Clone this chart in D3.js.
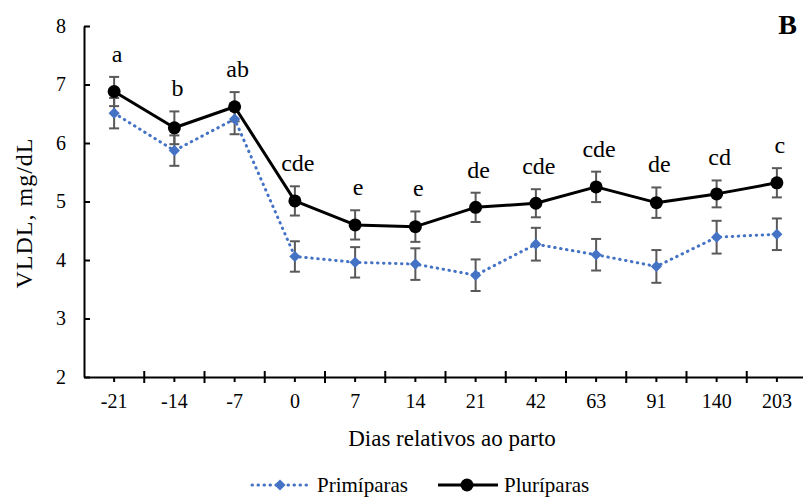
<!DOCTYPE html>
<html>
<head>
<meta charset="utf-8">
<script src="https://cdn.jsdelivr.net/npm/d3@7"></script>
<style>
  html, body { margin: 0; padding: 0; background: #fff; }
  svg { display: block; }
  svg text { font-family: "Liberation Serif", "Times New Roman", serif; }
</style>
</head>
<body>
<svg id="chart" width="803" height="497"></svg>
<script>
// Days relative to calving (categorical x axis)
const days = ["-21", "-14", "-7", "0", "7", "14", "21", "42", "63", "91", "140", "203"];

// VLDL means (mg/dL) and standard errors
const primiMean = [6.51, 5.87, 6.41, 4.06, 3.96, 3.93, 3.74, 4.27, 4.09, 3.89, 4.39, 4.44];
const primiSE   = [0.26, 0.26, 0.26, 0.26, 0.26, 0.27, 0.27, 0.28, 0.27, 0.28, 0.28, 0.27];
const pluriMean = [6.88, 6.26, 6.62, 5.01, 4.60, 4.57, 4.90, 4.97, 5.25, 4.98, 5.13, 5.32];
const pluriSE   = [0.25, 0.28, 0.25, 0.25, 0.25, 0.26, 0.25, 0.24, 0.26, 0.26, 0.23, 0.25];

// Significance letters per day
const letters = ["a", "b", "ab", "cde", "e", "e", "de", "cde", "cde", "de", "cd", "c"];

const yTicks = [2, 3, 4, 5, 6, 7, 8];

const FONT = "Liberation Serif, Times New Roman, serif";
const svg = d3.select("#chart");

const x = d3.scaleBand().domain(days).range([84, 807]).paddingInner(0).paddingOuter(0);
const cx = d => x(d) + x.bandwidth() / 2;
const y = d3.scaleLinear().domain([2, 8]).range([377, 26]);

const primi = days.map((d, i) => ({ day: d, v: primiMean[i], se: primiSE[i] }));
const pluri = days.map((d, i) => ({ day: d, v: pluriMean[i], se: pluriSE[i], lab: letters[i] }));

// Y axis: inward ticks, labels on the left
const yAxis = d3.axisLeft(y).tickValues(yTicks).tickFormat(d3.format("d"))
  .tickSizeInner(-6).tickSizeOuter(0).tickPadding(18);
const gy = svg.append("g").attr("transform", "translate(84,0)").call(yAxis)
  .attr("font-family", FONT);
gy.select(".domain").attr("stroke", "#000").attr("stroke-width", 2);
gy.selectAll(".tick line").attr("stroke", "#000").attr("stroke-width", 2);
gy.selectAll(".tick text").attr("font-size", 20).attr("fill", "#000");

// X axis: short ticks at category centers, labels below
const xAxis = d3.axisBottom(x).tickSizeInner(5).tickSizeOuter(0).tickPadding(12);
const gx = svg.append("g").attr("transform", "translate(0,377)").call(xAxis)
  .attr("font-family", FONT);
gx.select(".domain").attr("stroke", "#000").attr("stroke-width", 2);
gx.selectAll(".tick line").attr("stroke", "#000").attr("stroke-width", 2);
gx.selectAll(".tick text").attr("font-size", 20).attr("fill", "#000");

// Category boundary ticks crossing the x axis line
gx.selectAll(".bound").data(days.slice(1)).join("line")
  .attr("class", "bound")
  .attr("x1", d => x(d)).attr("x2", d => x(d))
  .attr("y1", -6).attr("y2", 6)
  .attr("stroke", "#000").attr("stroke-width", 2);

// Axis titles
svg.append("text")
  .attr("x", 452).attr("y", 446)
  .attr("text-anchor", "middle").attr("font-size", 23).attr("fill", "#000")
  .text("Dias relativos ao parto");

svg.append("text")
  .attr("transform", "translate(32,213) rotate(-90)")
  .attr("text-anchor", "middle").attr("font-size", 24).attr("fill", "#000")
  .attr("letter-spacing", 1)
  .text("VLDL,  mg/dL");

// Panel letter
svg.append("text")
  .attr("x", 797).attr("y", 34).attr("text-anchor", "end")
  .attr("font-size", 28).attr("font-weight", "bold").attr("fill", "#000")
  .text("B");

// Error bars
function errorBars(data, cls) {
  const g = svg.append("g").attr("class", cls)
    .attr("stroke", "#595959").attr("stroke-width", 2).attr("fill", "none");
  g.selectAll("line.v").data(data).join("line").attr("class", "v")
    .attr("x1", d => cx(d.day)).attr("x2", d => cx(d.day))
    .attr("y1", d => y(d.v - d.se)).attr("y2", d => y(d.v + d.se));
  g.selectAll("line.t").data(data).join("line").attr("class", "t")
    .attr("x1", d => cx(d.day) - 5).attr("x2", d => cx(d.day) + 5)
    .attr("y1", d => y(d.v + d.se)).attr("y2", d => y(d.v + d.se));
  g.selectAll("line.b").data(data).join("line").attr("class", "b")
    .attr("x1", d => cx(d.day) - 5).attr("x2", d => cx(d.day) + 5)
    .attr("y1", d => y(d.v - d.se)).attr("y2", d => y(d.v - d.se));
}
errorBars(pluri, "err-pluri");
errorBars(primi, "err-primi");

const line = d3.line().x(d => cx(d.day)).y(d => y(d.v));

// Pluríparas: solid black line with circles
svg.append("path").datum(pluri)
  .attr("d", line).attr("fill", "none")
  .attr("stroke", "#000").attr("stroke-width", 3).attr("stroke-linejoin", "round");

// Primíparas: dotted blue line with diamonds
svg.append("path").datum(primi)
  .attr("d", line).attr("fill", "none")
  .attr("stroke", "#4472C4").attr("stroke-width", 3)
  .attr("stroke-dasharray", "0.5 5.5").attr("stroke-linecap", "round");

const diamond = d3.symbol().type(d3.symbolDiamond2).size(80);
svg.append("g").selectAll("path").data(primi).join("path")
  .attr("transform", d => `translate(${cx(d.day)},${y(d.v)})`)
  .attr("d", diamond).attr("fill", "#4472C4");

svg.append("g").selectAll("circle").data(pluri).join("circle")
  .attr("cx", d => cx(d.day)).attr("cy", d => y(d.v)).attr("r", 6.5)
  .attr("fill", "#000");

// Letters above the upper error bar
svg.append("g").selectAll("text").data(pluri).join("text")
  .attr("x", d => cx(d.day) + 3)
  .attr("y", d => y(d.v + d.se) - 15)
  .attr("text-anchor", "middle").attr("font-size", 24).attr("fill", "#000")
  .text(d => d.lab);

// Legend
const leg = svg.append("g");
leg.append("line").attr("x1", 252).attr("x2", 308).attr("y1", 485).attr("y2", 485)
  .attr("stroke", "#4472C4").attr("stroke-width", 3)
  .attr("stroke-dasharray", "0.5 5.5").attr("stroke-linecap", "round");
leg.append("path").attr("transform", "translate(280,485)").attr("d", diamond).attr("fill", "#4472C4");
leg.append("text").attr("x", 317).attr("y", 492).attr("font-size", 21).attr("fill", "#000").text("Primíparas");

leg.append("line").attr("x1", 438).attr("x2", 498).attr("y1", 485).attr("y2", 485)
  .attr("stroke", "#000").attr("stroke-width", 3);
leg.append("circle").attr("cx", 467).attr("cy", 485).attr("r", 6.5).attr("fill", "#000");
leg.append("text").attr("x", 504).attr("y", 492).attr("font-size", 21).attr("fill", "#000").text("Pluríparas");
</script>
</body>
</html>
